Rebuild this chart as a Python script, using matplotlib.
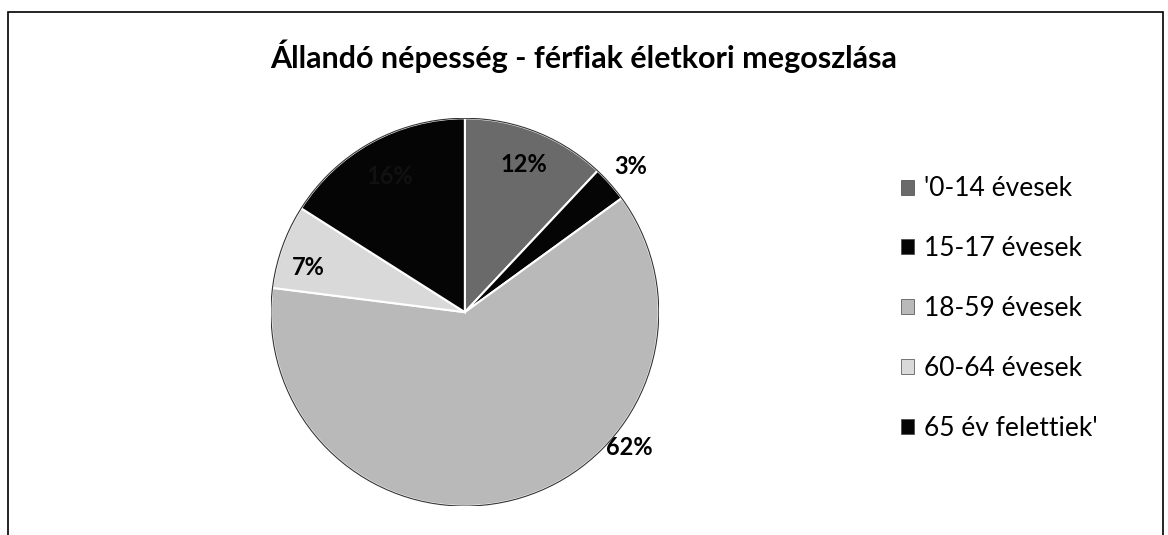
import numpy as np
import matplotlib
matplotlib.use("Agg")
import matplotlib.pyplot as plt
from matplotlib.patches import Rectangle, Patch

plt.rcParams['font.family'] = ['Lato', 'DejaVu Sans']

title = "Állandó népesség - férfiak életkori megoszlása"
labels = ["'0-14 évesek", "15-17 évesek", "18-59 évesek", "60-64 évesek", "65 év felettiek'"]
shares = [12, 3, 62, 7, 16]
pct_text = ["12%", "3%", "62%", "7%", "16%"]
colors = ["#6a6a6a", "#050505", "#b9b9b9", "#d9d9d9", "#050505"]
# label placement (angle in degrees, None = middle of wedge; radius)
lab_angle = [None, None, -39.5, 164, None]
lab_radius = [0.82, 1.14, 1.10, 0.84, 0.80]
lab_color = ["black", "black", "black", "black", "#111111"]

fig = plt.figure(figsize=(11.68, 5.35), dpi=100)
ax = fig.add_axes([0.232, 0.054, 0.332, 0.725])

wedges, _ = ax.pie(shares, colors=colors, startangle=90, counterclock=False,
                   radius=1.0, wedgeprops=dict(edgecolor="white", linewidth=1.5))
# dark outline around the pie
circ = plt.Circle((0, 0), 1.0, fill=False, edgecolor="#333333", lw=0.8)
ax.add_patch(circ)

for w, t, a, r, c in zip(wedges, pct_text, lab_angle, lab_radius, lab_color):
    if a is None:
        a = (w.theta1 + w.theta2) / 2
    ang = np.deg2rad(a)
    ax.text(r * np.cos(ang), r * np.sin(ang), t, ha="center", va="center",
            fontsize=17, fontweight="bold", color=c)

ax.set_xlim(-1, 1)
ax.set_ylim(-1, 1)
ax.set_aspect("equal")
ax.axis("off")

fig.text(0.5, 0.895, title, ha="center", va="center", fontsize=22, fontweight="bold")

handles = [Patch(facecolor=c, edgecolor="#444444", lw=0.5) for c in colors]
fig.legend(handles, labels, loc="upper left", bbox_to_anchor=(0.762, 0.69),
           frameon=False, fontsize=19, handlelength=0.5, handleheight=0.5,
           handletextpad=0.4, labelspacing=1.32, borderaxespad=0)

fig.patches.append(Rectangle((0.007, -0.02), 0.989, 0.998, transform=fig.transFigure,
                             fill=False, edgecolor="black", lw=1.2))

fig.savefig("out.png", dpi=100)
